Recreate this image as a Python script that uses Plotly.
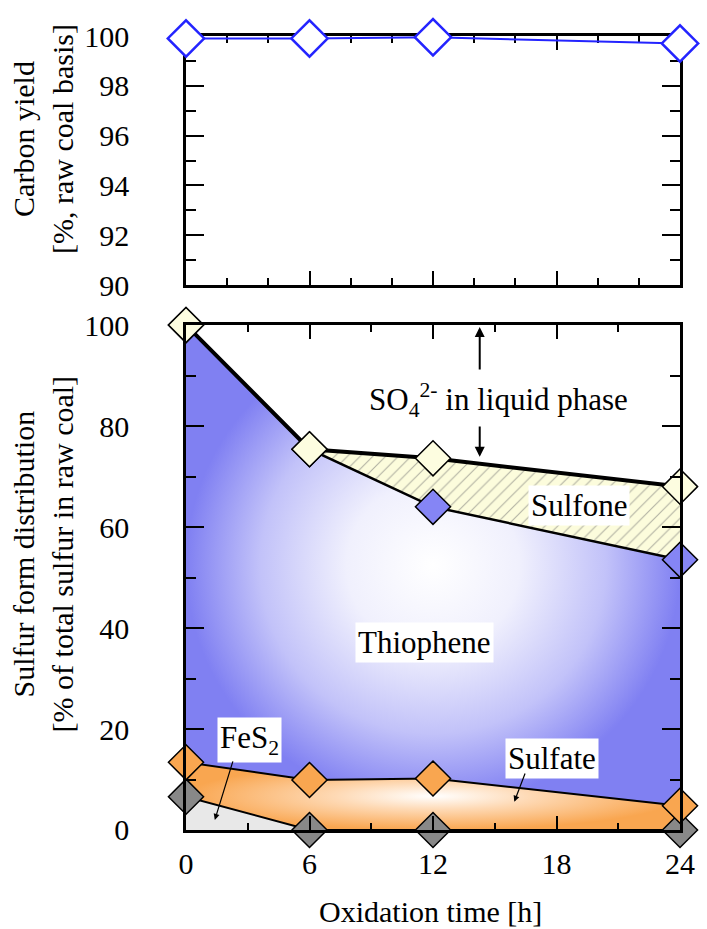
import plotly.graph_objects as go

# ---------------- data ----------------
time_h = [0, 6, 12, 24]
carbon_yield = [99.9, 99.9, 99.95, 99.7]

fes2 = [6.6, 0.0, 0.0, 0.0]
sulfate = [6.8, 9.9, 10.2, 4.8]
thiophene = [86.6, 65.5, 53.8, 48.7]
sulfone = [0.0, 0.0, 9.6, 14.5]

x_ticks = [0, 6, 12, 18, 24]

# cumulative boundaries
c_fes2 = [a for a in fes2]
c_sulfate = [a + b for a, b in zip(c_fes2, sulfate)]
c_thio = [a + b for a, b in zip(c_sulfate, thiophene)]
c_total = [a + b for a, b in zip(c_thio, sulfone)]
zeros = [0.0 for _ in time_h]

FONT = "Liberation Serif"
BLUE_EDGE = "#8080f2"
ORANGE = "#f9a650"


def band(lower, upper):
    xs = list(time_h) + list(time_h)[::-1]
    ys = list(upper) + list(lower)[::-1]
    return xs, ys


fig = go.Figure()

# ---- top panel ----
fig.add_trace(go.Scatter(
    x=time_h, y=carbon_yield, mode="lines+markers", xaxis="x", yaxis="y",
    line=dict(color="#2424ff", width=2),
    marker=dict(symbol="diamond", size=28, color="white",
                line=dict(color="#2424ff", width=2.5)),
    cliponaxis=False, showlegend=False))

# ---- bottom panel fills ----
xs, ys = band(zeros, c_fes2)
fig.add_trace(go.Scatter(x=xs, y=ys, mode="lines", fill="toself",
                         fillcolor="#e8e8e8", line=dict(width=0),
                         xaxis="x2", yaxis="y2", showlegend=False, hoverinfo="skip"))

xs, ys = band(c_fes2, c_sulfate)
fig.add_trace(go.Scatter(x=xs, y=ys, mode="lines", fill="toself",
                         fillgradient=dict(type="radial",
                                           colorscale=[[0, "#ffffff"], [0.4, "#fed9b4"], [1, ORANGE]]),
                         line=dict(width=0),
                         xaxis="x2", yaxis="y2", showlegend=False, hoverinfo="skip"))

xs, ys = band(c_sulfate, c_thio)
fig.add_trace(go.Scatter(x=xs, y=ys, mode="lines", fill="toself",
                         fillgradient=dict(type="radial",
                                           colorscale=[[0, "#ffffff"], [0.35, "#f0f0fd"],
                                                       [0.7, "#c2c2f9"], [1, BLUE_EDGE]]),
                         line=dict(width=0),
                         xaxis="x2", yaxis="y2", showlegend=False, hoverinfo="skip"))

xs, ys = band(c_thio, c_total)
fig.add_trace(go.Scatter(x=xs, y=ys, mode="lines", fill="toself",
                         fillcolor="#fcfcdc",
                         fillpattern=dict(shape="/", bgcolor="#fcfcdc", fgcolor="#666666",
                                          size=9, solidity=0.12),
                         line=dict(width=0),
                         xaxis="x2", yaxis="y2", showlegend=False, hoverinfo="skip"))

# ---- boundary lines ----
for ys_, w in [(c_fes2, 2), (c_sulfate, 2), (c_thio, 2.5), (c_total, 4)]:
    fig.add_trace(go.Scatter(x=time_h, y=ys_, mode="lines",
                             line=dict(color="black", width=w),
                             xaxis="x2", yaxis="y2", showlegend=False, hoverinfo="skip"))

# ---- markers ----
for ys_, col in [(c_fes2, "#888888"), (c_sulfate, ORANGE), (c_thio, "#8585f5"), (c_total, "#fdfde0")]:
    fig.add_trace(go.Scatter(x=time_h, y=ys_, mode="markers",
                             marker=dict(symbol="diamond", size=27, color=col,
                                         line=dict(color="black", width=1.5)),
                             cliponaxis=False,
                             xaxis="x2", yaxis="y2", showlegend=False))

tickfont = dict(family=FONT, size=30)
common_axis = dict(showline=True, linecolor="black", linewidth=2.5, mirror="ticks",
                   ticks="inside", tickcolor="black", tickwidth=2, showgrid=False,
                   zeroline=False, tickfont=tickfont)

fig.update_layout(
    width=707, height=929,
    margin=dict(l=186, r=17, t=36, b=99),
    paper_bgcolor="white", plot_bgcolor="white",
    font=dict(color="black"),
    xaxis=dict(domain=[0, 1], anchor="y", range=[0, 24], tickvals=x_ticks,
               showticklabels=False, ticklen=14,
               minor=dict(dtick=2, ticklen=7, ticks="inside", tickcolor="black", tickwidth=2),
               layer="below traces", **common_axis),
    yaxis=dict(domain=[0.6864, 1], anchor="x", range=[90, 100], dtick=2, ticklen=18,
               minor=dict(dtick=1, ticklen=10, ticks="inside", tickcolor="black", tickwidth=2),
               ticklabelstandoff=48, layer="below traces", **common_axis),
    xaxis2=dict(domain=[0, 1], anchor="y2", range=[0, 24], tickvals=x_ticks, ticklen=14,
                minor=dict(dtick=3, ticklen=7, ticks="inside", tickcolor="black", tickwidth=2),
                ticklabelstandoff=5, **common_axis),
    yaxis2=dict(domain=[0, 0.636], anchor="x2", range=[0, 100], dtick=20, ticklen=18,
                minor=dict(dtick=10, ticklen=10, ticks="inside", tickcolor="black", tickwidth=2),
                ticklabelstandoff=48, **common_axis),
)

ann_font = dict(family=FONT, size=31)
title_font = dict(family=FONT, size=30)
annotations = [
    dict(text="Carbon yield<br>[%, raw coal basis]", xref="paper", yref="paper",
         x=-0.29, y=0.870, textangle=-90, showarrow=False, font=title_font,
         xanchor="center", yanchor="middle"),
    dict(text="Sulfur form distribution<br>[% of total sulfur in raw coal]", xref="paper", yref="paper",
         x=-0.29, y=0.348, textangle=-90, showarrow=False, font=title_font,
         xanchor="center", yanchor="middle"),
    dict(text="Oxidation time [h]", xref="paper", yref="paper", x=0.494, y=-0.103,
         showarrow=False, font=title_font, xanchor="center", yanchor="middle"),
    dict(text="SO<sub>4</sub><sup>2-</sup> in liquid phase", xref="x2", yref="y2", x=15.2, y=85.1,
         showarrow=False, font=ann_font, bgcolor="white"),
    dict(text="Thiophene", xref="x2", yref="y2", x=11.6, y=37.2,
         showarrow=False, font=ann_font, bgcolor="white", borderpad=2),
    dict(text="Sulfone", xref="x2", yref="y2", x=19.1, y=64.2,
         showarrow=False, font=ann_font, bgcolor="white", borderpad=2),
    dict(text="Sulfate", xref="x2", yref="y2", x=17.8, y=14.1,
         showarrow=False, font=ann_font, bgcolor="white", borderpad=2),
    dict(text="FeS<sub>2</sub>", xref="x2", yref="y2", x=3.07, y=17.8,
         showarrow=False, font=ann_font, bgcolor="white", borderpad=2),
    # arrows
    dict(text="", xref="x2", yref="y2", axref="x2", ayref="y2",
         x=14.27, y=99.6, ax=14.27, ay=90.9, showarrow=True, arrowhead=2,
         arrowsize=1, arrowwidth=2, arrowcolor="black", standoff=0),
    dict(text="", xref="x2", yref="y2", axref="x2", ayref="y2",
         x=14.27, y=73.9, ax=14.27, ay=80.2, showarrow=True, arrowhead=2,
         arrowsize=1, arrowwidth=2, arrowcolor="black", standoff=0),
    dict(text="", xref="x2", yref="y2", axref="x2", ayref="y2",
         x=1.4, y=2.0, ax=2.3, ay=13.9, showarrow=True, arrowhead=2,
         arrowsize=1, arrowwidth=1.2, arrowcolor="black", standoff=0),
    dict(text="", xref="x2", yref="y2", axref="x2", ayref="y2",
         x=15.95, y=5.6, ax=16.5, ay=11.5, showarrow=True, arrowhead=2,
         arrowsize=1, arrowwidth=1.2, arrowcolor="black", standoff=0),
]
fig.update_layout(annotations=annotations)

fig.write_html("out.html")
